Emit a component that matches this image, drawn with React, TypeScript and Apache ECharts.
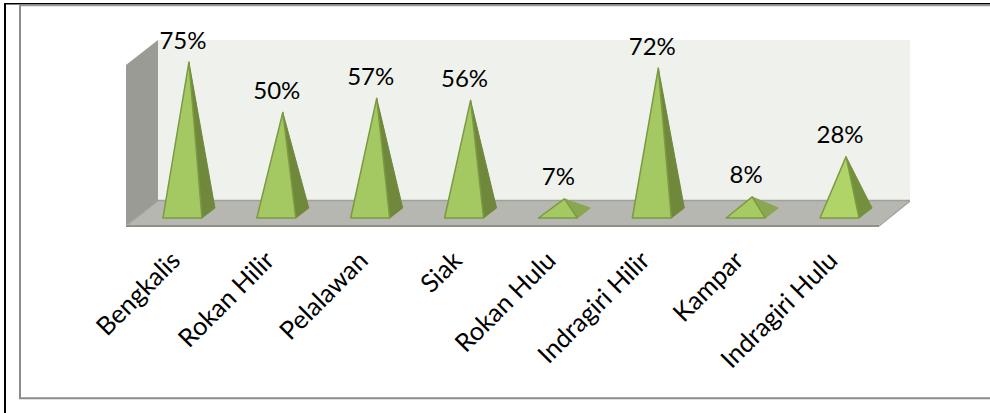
import React, { useEffect, useRef } from "react";
import * as echarts from "echarts";

const categories = ["Bengkalis", "Rokan Hilir", "Pelalawan", "Siak", "Rokan Hulu", "Indragiri Hilir", "Kampar", "Indragiri Hulu"];
const percentValues = [75, 50, 57, 56, 7, 72, 8, 28];
const frontColors = ["#A4C862", "#A4C862", "#A4C862", "#A4C862", "#A4C862", "#A4C862", "#A6CB62", "#B0D468"];
const sideColors = ["#70883C", "#70883C", "#70883C", "#70883C", "#8BA651", "#70883C", "#8BA651", "#74903F"];

const FONT = "Lato";

function renderPyramid(params: any, api: any) {
  const i = api.value(0);
  const v = api.value(1);
  const top = api.coord([i, v]);
  const zero = api.coord([i, 0]);
  const fl: number[] = [top[0] - 26, zero[1] + 5];
  const fr: number[] = [top[0] + 13, zero[1] + 5];
  const br: number[] = [top[0] + 26, zero[1] - 5];
  return {
    type: "group",
    children: [
      {
        type: "polygon",
        shape: { points: [top, fr, br] },
        style: { fill: sideColors[i], stroke: sideColors[i], lineWidth: 1 },
      },
      {
        type: "polygon",
        shape: { points: [top, fl, fr] },
        style: { fill: frontColors[i], stroke: "#7C9A42", lineWidth: 1.5, lineJoin: "round" },
      },
      {
        type: "text",
        x: top[0] - 6,
        y: top[1] - 23,
        style: {
          text: v + "%",
          fill: "#000",
          font: `24px ${FONT}`,
          align: "center",
          verticalAlign: "middle",
        },
      },
    ],
  };
}

export default function App() {
  const ref = useRef<HTMLDivElement>(null);
  useEffect(() => {
    const chart = echarts.init(ref.current!, undefined, { renderer: "svg" });
    const line = (x1: number, y1: number, x2: number, y2: number, stroke: string, lineWidth: number) => ({
      type: "line",
      shape: { x1, y1, x2, y2 },
      style: { stroke, lineWidth },
      silent: true,
      z: 0,
    });
    chart.setOption({
      animation: false,
      backgroundColor: "#fff",
      grid: { left: 142, top: 52, width: 751, height: 161 },
      xAxis: {
        type: "category",
        data: categories,
        axisLine: { show: false },
        axisTick: { show: false },
        axisLabel: {
          interval: 0,
          rotate: 45,
          margin: 28,
          padding: [0, 20, 0, 0],
          color: "#000",
          fontFamily: FONT,
          fontSize: 25.5,
        },
      },
      yAxis: { type: "value", min: 0, max: 80, show: false, splitLine: { show: false } },
      graphic: [
        { type: "polygon", shape: { points: [[158, 40], [910, 40], [910, 201], [158, 201]] }, style: { fill: "#EFF2EC" }, silent: true, z: 0 },
        { type: "polygon", shape: { points: [[126, 65], [158, 40], [158, 201], [126, 226]] }, style: { fill: "#999B94" }, silent: true, z: 0 },
        { type: "polygon", shape: { points: [[127, 225], [158, 201], [910, 201], [879, 225]] }, style: { fill: "#B5B7B0" }, silent: true, z: 0 },
        line(158, 200.5, 910, 200.5, "#A0A29A", 1.5),
        line(910, 201, 879, 226, "#A0A29A", 1.5),
        line(126, 226, 879, 226, "#8E908A", 2),
        line(127, 225.5, 158, 201, "#A0A29A", 1),
        line(5, 3, 5, 413, "#000", 2),
        line(4, 3.8, 990, 3.8, "#000", 1.5),
        line(19, 5.5, 990, 5.5, "#999", 1.5),
        line(20, 5, 20, 399, "#8C8C8C", 2),
        line(19, 398.3, 990, 398.3, "#8C8C8C", 2),
      ],
      series: [
        {
          type: "custom",
          renderItem: renderPyramid,
          data: percentValues.map((v, i) => [i, v]),
          encode: { x: 0, y: 1 },
          clip: false,
          z: 2,
        },
      ],
    });
    return () => chart.dispose();
  }, []);
  return <div ref={ref} style={{ position: "absolute", left: 0, top: 0, width: 990, height: 413 }} />;
}
